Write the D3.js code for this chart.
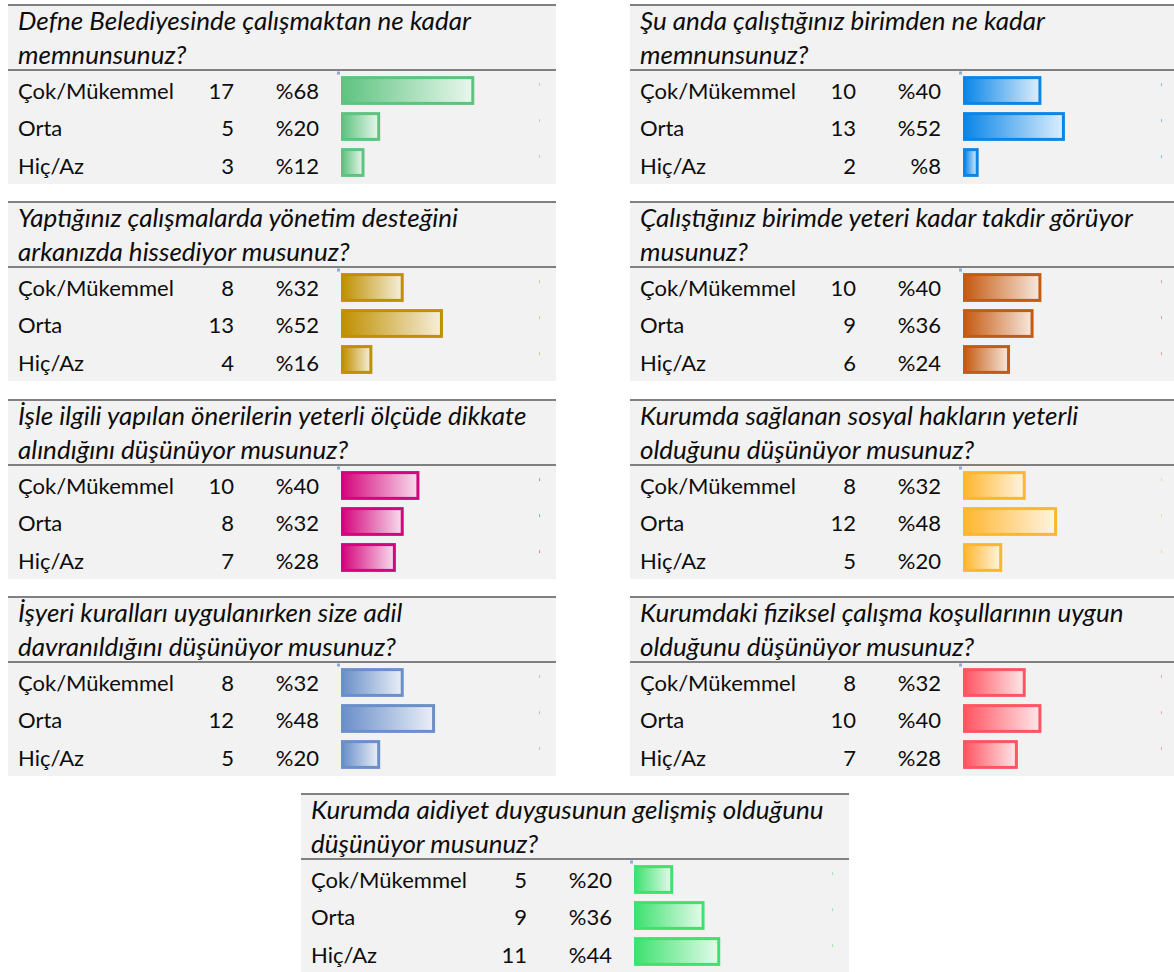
<!DOCTYPE html>
<html><head><meta charset="utf-8">
<script src="https://cdn.jsdelivr.net/npm/d3@7"></script>
<style>
html,body{margin:0;padding:0;background:#fff;}
svg{display:block;}
</style></head>
<body>
<svg id="chart" width="1174" height="972"></svg>
<script>
// ---------- DATA ----------
const titles = [
  ["Defne Belediyesinde çalışmaktan ne kadar", "memnunsunuz?"],
  ["Şu anda çalıştığınız birimden ne kadar", "memnunsunuz?"],
  ["Yaptığınız çalışmalarda yönetim desteğini", "arkanızda hissediyor musunuz?"],
  ["Çalıştığınız birimde yeteri kadar takdir görüyor", "musunuz?"],
  ["İşle ilgili yapılan önerilerin yeterli ölçüde dikkate", "alındığını düşünüyor musunuz?"],
  ["Kurumda sağlanan sosyal hakların yeterli", "olduğunu düşünüyor musunuz?"],
  ["İşyeri kuralları uygulanırken size adil", "davranıldığını düşünüyor musunuz?"],
  ["Kurumdaki fiziksel çalışma koşullarının uygun", "olduğunu düşünüyor musunuz?"],
  ["Kurumda aidiyet duygusunun gelişmiş olduğunu", "düşünüyor musunuz?"]
];
const categories = ["Çok/Mükemmel", "Orta", "Hiç/Az"];
const counts = [
  [17, 5, 3],
  [10, 13, 2],
  [8, 13, 4],
  [10, 9, 6],
  [10, 8, 7],
  [8, 12, 5],
  [8, 12, 5],
  [8, 10, 7],
  [5, 9, 11]
];
const percents = [
  [68, 20, 12],
  [40, 52, 8],
  [32, 52, 16],
  [40, 36, 24],
  [40, 32, 28],
  [32, 48, 20],
  [32, 48, 20],
  [32, 40, 28],
  [20, 36, 44]
];
const colors = ["#5fc380", "#0a86e8", "#bf9000", "#c55a11", "#d4067c",
                "#ffb62f", "#6a8fc9", "#ff5462", "#3fe170"];

// ---------- LAYOUT ----------
const svg = d3.select("#chart");
const FONT = "Lato, 'Open Sans', 'DejaVu Sans', sans-serif";

svg.append("rect").attr("width", 1174).attr("height", 972).attr("fill", "#fff");

function fitSize(text, target, italic) {
  const t = svg.append("text").attr("font-family", FONT).attr("font-size", 100)
    .attr("font-style", italic ? "italic" : "normal").text(text);
  const w = t.node().getComputedTextLength();
  t.remove();
  return 100 * target / w;
}
const rowFont = fitSize("Çok/Mükemmel", 156, false);
const titleFont = fitSize("Defne Belediyesinde çalışmaktan ne kadar", 453, true);

const defs = svg.append("defs");
const panelW = 548;

titles.forEach((title, i) => {
  let px, py, ph;
  if (i < 8) {
    px = (i % 2 === 0) ? 8 : 630;
    py = Math.round(4 + Math.floor(i / 2) * 197.25);
    ph = 180;
  } else {
    px = 301; py = 793; ph = 179;
  }
  const g = svg.append("g").attr("transform", `translate(${px},${py})`);
  const color = colors[i];

  g.append("rect").attr("x", 0).attr("y", 0).attr("width", panelW).attr("height", ph).attr("fill", "#f2f2f2");
  g.append("line").attr("x1", 0).attr("x2", panelW).attr("y1", 1).attr("y2", 1)
    .attr("stroke", "#808080").attr("stroke-width", 2);
  g.append("line").attr("x1", 0).attr("x2", panelW).attr("y1", 66).attr("y2", 66)
    .attr("stroke", "#808080").attr("stroke-width", 2);

  const tt = g.append("text").attr("font-family", FONT).attr("font-style", "italic")
    .attr("font-size", titleFont).attr("fill", "#0d0d0d");
  tt.append("tspan").attr("x", 10).attr("y", 26).text(title[0]);
  tt.append("tspan").attr("x", 10).attr("y", 59.5).text(title[1]);

  const barX0 = 333;
  const x = d3.scaleLinear().domain([0, 100]).range([0, 196]);
  const yb = d3.scaleBand().domain(categories).range([68.5, 176.5]).paddingInner(0.2).paddingOuter(0.1);
  const yt = d3.scalePoint().domain(categories).range([94.5, 169.5]);

  const gid = "grad" + i;
  const grad = defs.append("linearGradient").attr("id", gid).attr("x1", "0%").attr("x2", "100%").attr("y1", "0%").attr("y2", "0%");
  grad.append("stop").attr("offset", "0%").attr("stop-color", color);
  grad.append("stop").attr("offset", "100%").attr("stop-color", d3.interpolateRgb(color, "#ffffff")(0.86));

  const rows = categories.map((c, k) => ({cat: c, n: counts[i][k], p: percents[i][k]}));

  g.selectAll("text.lab").data(rows).join("text").attr("class", "lab")
    .attr("x", 10).attr("y", d => yt(d.cat))
    .attr("font-family", FONT).attr("font-size", rowFont).attr("fill", "#0d0d0d")
    .text(d => d.cat);
  g.selectAll("text.cnt").data(rows).join("text").attr("class", "cnt")
    .attr("x", 226).attr("y", d => yt(d.cat)).attr("text-anchor", "end")
    .attr("font-family", FONT).attr("font-size", rowFont).attr("fill", "#0d0d0d")
    .text(d => d.n);
  g.selectAll("text.pct").data(rows).join("text").attr("class", "pct")
    .attr("x", 311).attr("y", d => yt(d.cat)).attr("text-anchor", "end")
    .attr("font-family", FONT).attr("font-size", rowFont).attr("fill", "#0d0d0d")
    .text(d => "%" + d.p);

  const bg = g.append("g").attr("transform", `translate(${barX0},0)`);
  bg.selectAll("rect.bar").data(rows).join("rect").attr("class", "bar")
    .attr("x", 1.5).attr("y", d => yb(d.cat) + 1.5)
    .attr("width", d => Math.max(0, x(d.p) - 3))
    .attr("height", yb.bandwidth() - 3)
    .attr("fill", `url(#${gid})`).attr("stroke", color).attr("stroke-width", 3);

  bg.append("rect").attr("x", -4).attr("y", 67.5).attr("width", 3).attr("height", 3).attr("fill", "#8eaadb");
  bg.selectAll("rect.tk").data(rows).join("rect").attr("class", "tk")
    .attr("x", x(100) + 2).attr("y", d => yb(d.cat) + 7).attr("width", 1).attr("height", 3)
    .attr("fill", d3.interpolateRgb(color, "#f2f2f2")(0.5));
});
</script>
</body></html>
